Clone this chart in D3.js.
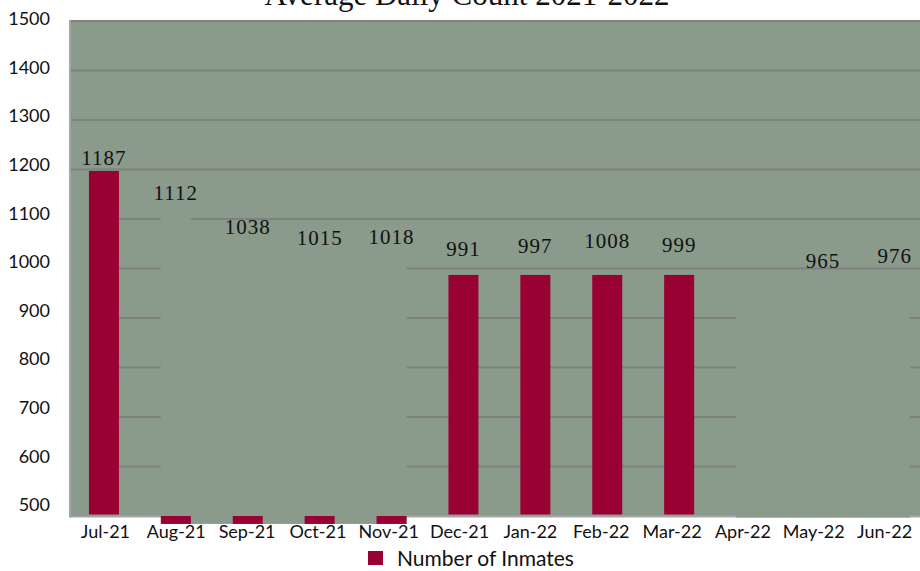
<!DOCTYPE html>
<html><head><meta charset="utf-8">
<script src="https://cdn.jsdelivr.net/npm/d3@7"></script>
<style>body{margin:0;background:#fff;} svg{display:block}</style>
</head><body>
<svg id="chart" width="920" height="571"></svg>
<script>
// ---- data ----
const categories = ["Jul-21","Aug-21","Sep-21","Oct-21","Nov-21","Dec-21","Jan-22","Feb-22","Mar-22","Apr-22","May-22","Jun-22"];
const labelValues = [1187,1112,1038,1015,1018,991,997,1008,999,null,965,976];
// drawn bar ends as they appear in the picture
const barValues = [1197,484,484,484,484,987,987,987,987,null,null,null];
// runs of months whose bars are rendered in the plot colour
const ghostGroups = [["Aug-21","Nov-21"],["Apr-22","Jun-22"]];
const yTicks = [500,600,700,800,900,1000,1100,1200,1300,1400,1500];
const gridTicks = [600,700,800,900,1000,1100,1200,1300,1400];
const titleText = "Average Daily Count 2021-2022";
const seriesName = "Number of Inmates";

const BG = "#8a9a8b", BAR = "#990033", GRID = "#808080", AXIS = "#a6a6a6";
const SANS = "Lato,'Open Sans',sans-serif", SERIF = "'Liberation Serif','Times New Roman',serif";
const svg = d3.select("#chart");
const plot = {left:70, right:920, top:21, bottom:516};

const y = d3.scaleLinear().domain([500,1500]).range([plot.bottom, plot.top]);
const yLab = d3.scaleLinear().domain([500,1500]).range([505,19]);
const yText = d3.scaleLinear().domain([500,1500]).range([484,20]);
const x = d3.scaleBand().domain(categories).range([68,930.8]).paddingInner(0.583).paddingOuter(0.2915);
const xLab = d3.scaleBand().domain(categories).range([70,920]);

// background
svg.append("rect").attr("x",plot.left).attr("y",plot.top)
  .attr("width",plot.right-plot.left).attr("height",plot.bottom-plot.top).attr("fill",BG);

// gridlines
svg.append("g").selectAll("line").data(gridTicks).join("line")
  .attr("x1",plot.left).attr("x2",plot.right)
  .attr("y1",d=>y(d)).attr("y2",d=>y(d))
  .attr("stroke",GRID).attr("stroke-width",2);
// top border
svg.append("line").attr("x1",plot.left).attr("x2",plot.right)
  .attr("y1",y(1500)).attr("y2",y(1500)).attr("stroke",GRID).attr("stroke-width",2);
// left & bottom axis lines
svg.append("line").attr("x1",plot.left).attr("x2",plot.left)
  .attr("y1",plot.top-1).attr("y2",plot.bottom+1.5).attr("stroke",AXIS).attr("stroke-width",2);
svg.append("line").attr("x1",plot.left).attr("x2",plot.right)
  .attr("y1",plot.bottom+0.5).attr("y2",plot.bottom+0.5).attr("stroke",AXIS).attr("stroke-width",2);

// gap left of the first bar (gridlines hidden below its value)
svg.append("rect").attr("x",plot.left+1).attr("y",y(labelValues[0]))
  .attr("width",x(categories[0])-plot.left-1).attr("height",y(500)-y(labelValues[0])).attr("fill",BG);

// ghost regions
const idx = c => categories.indexOf(c);
ghostGroups.forEach(([a,b])=>{
  const i0 = idx(a), i1 = idx(b);
  const vals = labelValues.slice(i0,i1+1).filter(v=>v!=null);
  const bars = barValues.slice(i0,i1+1).filter(v=>v!=null);
  const top = d3.min(vals);
  const bottom = d3.min([500, ...bars]);
  svg.append("rect").attr("x",x(a)).attr("y",y(top))
    .attr("width",x(b)+x.bandwidth()-x(a)).attr("height",y(bottom)-y(top)+(bottom<500?0:1.5)).attr("fill",BG);
  for(let i=i0;i<=i1;i++){
    if(labelValues[i]==null) continue;
    svg.append("rect").attr("x",x(categories[i])).attr("y",y(labelValues[i]))
      .attr("width",x.bandwidth()).attr("height",y(500)-y(labelValues[i])).attr("fill",BG);
  }
});

// bars
const barData = categories.map((c,i)=>({c,v:barValues[i]})).filter(d=>d.v!=null);
svg.append("g").selectAll("rect").data(barData).join("rect")
  .attr("x",d=>x(d.c)).attr("width",x.bandwidth())
  .attr("y",d=>y(Math.max(d.v,500)))
  .attr("height",d=>Math.abs(y(d.v)-y(500)) - (d.v>500?1.5:0))
  .attr("fill",BAR);

// value labels
const labData = categories.map((c,i)=>({c,v:labelValues[i]})).filter(d=>d.v!=null);
svg.append("g").selectAll("text").data(labData).join("text")
  .attr("x",d=>x(d.c)+x.bandwidth()/2).attr("y",d=>yText(d.v))
  .attr("text-anchor","middle")
  .attr("font-family",SERIF)
  .attr("font-size",21).attr("letter-spacing",1).attr("fill","#111")
  .text(d=>d.v);

// y axis labels
const yAxis = d3.axisLeft(yLab).tickValues(yTicks).tickSize(0).tickPadding(0).tickFormat(d3.format("d"));
const gy = svg.append("g").attr("transform","translate(50,0)").call(yAxis);
gy.select(".domain").remove();
gy.selectAll("text").attr("font-family",SANS).attr("font-size",18).attr("fill","#111");

// x axis labels
const xAxis = d3.axisBottom(xLab).tickSize(0).tickPadding(0);
const gx = svg.append("g").attr("transform","translate(0,525)").call(xAxis);
gx.select(".domain").remove();
gx.selectAll("text").attr("font-family",SANS).attr("font-size",18).attr("fill","#111");

// title (its top is cut off in the reference as well)
svg.append("text").attr("x",467).attr("y",5).attr("text-anchor","middle")
  .attr("font-family",SERIF).attr("font-size",31)
  .attr("fill","#111").text(titleText);

// legend
svg.append("rect").attr("x",368).attr("y",551).attr("width",15).attr("height",14).attr("fill",BAR);
svg.append("text").attr("x",397).attr("y",566)
  .attr("font-family",SANS).attr("font-size",21).attr("fill","#111")
  .text(seriesName);
</script>
</body></html>
